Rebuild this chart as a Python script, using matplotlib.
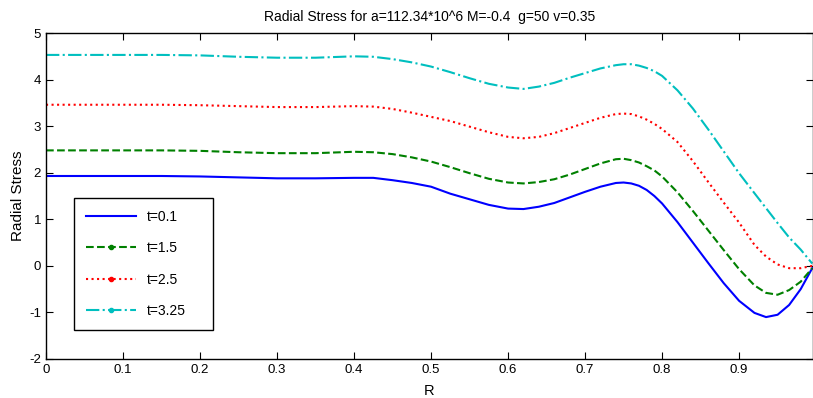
import matplotlib
matplotlib.use("Agg")
import matplotlib.pyplot as plt
from matplotlib.lines import Line2D

plt.rcParams['font.family'] = ['Liberation Sans', 'DejaVu Sans']
plt.rcParams['font.size'] = 9.5
plt.rcParams['axes.unicode_minus'] = False

# radius values (shared by all curves)
r = [0, 0.05, 0.1, 0.15, 0.2, 0.25, 0.3, 0.35, 0.4, 0.425, 0.45, 0.475, 0.5,
     0.525, 0.55, 0.575, 0.6, 0.62, 0.64, 0.66, 0.68, 0.7, 0.72, 0.74, 0.75,
     0.76, 0.77, 0.78, 0.79, 0.8, 0.82, 0.84, 0.86, 0.88, 0.9, 0.92, 0.935,
     0.95, 0.965, 0.98, 0.995]

stress_t01 = [1.93, 1.93, 1.93, 1.93, 1.92, 1.90, 1.88, 1.88, 1.89, 1.89, 1.84,
              1.78, 1.70, 1.55, 1.43, 1.31, 1.23, 1.22, 1.27, 1.35, 1.47, 1.59,
              1.70, 1.78, 1.79, 1.77, 1.72, 1.63, 1.50, 1.34, 0.94, 0.50, 0.06,
              -0.37, -0.75, -1.01, -1.10, -1.05, -0.84, -0.50, -0.05]
stress_t15 = [2.48, 2.48, 2.48, 2.48, 2.47, 2.44, 2.42, 2.42, 2.45, 2.44, 2.40,
              2.33, 2.24, 2.12, 1.99, 1.87, 1.79, 1.77, 1.80, 1.86, 1.96, 2.08,
              2.20, 2.29, 2.30, 2.27, 2.22, 2.14, 2.05, 1.92, 1.58, 1.18, 0.76,
              0.34, -0.07, -0.42, -0.58, -0.62, -0.52, -0.34, -0.05]
stress_t25 = [3.46, 3.46, 3.46, 3.46, 3.45, 3.43, 3.41, 3.41, 3.43, 3.42, 3.37,
              3.29, 3.20, 3.11, 2.99, 2.87, 2.77, 2.74, 2.77, 2.85, 2.96, 3.07,
              3.18, 3.26, 3.27, 3.26, 3.21, 3.14, 3.05, 2.94, 2.66, 2.25, 1.80,
              1.36, 0.93, 0.45, 0.20, 0.03, -0.05, -0.05, 0.0]
stress_t325 = [4.53, 4.53, 4.53, 4.53, 4.52, 4.49, 4.47, 4.47, 4.50, 4.49, 4.44,
               4.37, 4.28, 4.16, 4.03, 3.91, 3.83, 3.80, 3.85, 3.93, 4.04, 4.14,
               4.24, 4.31, 4.33, 4.33, 4.30, 4.25, 4.18, 4.08, 3.77, 3.38, 2.93,
               2.46, 1.99, 1.56, 1.24, 0.92, 0.61, 0.35, 0.05]

labels = ['t=0.1', 't=1.5', 't=2.5', 't=3.25']
colors = ['#0000ff', '#008000', '#ff0000', '#00bfbf']
styles = ['-', '--', ':', '-.']

fig = plt.figure(figsize=(8.13, 3.98), dpi=100)
ax = fig.add_axes([0.0566, 0.098, 0.9434, 0.819])

series = [stress_t01, stress_t15, stress_t25, stress_t325]
for s, c, ls in zip(series, colors, styles):
    ax.plot(r, s, color=c, linestyle=ls, linewidth=1.5)

ax.set_xlim(0, 0.996)
ax.set_ylim(-2, 5)
ax.set_xticks([0, 0.1, 0.2, 0.3, 0.4, 0.5, 0.6, 0.7, 0.8, 0.9])
ax.set_xticklabels(['0', '0.1', '0.2', '0.3', '0.4', '0.5', '0.6', '0.7', '0.8', '0.9'])
ax.set_yticks(range(-2, 6))
ax.tick_params(direction='in', top=True, right=True, length=5, width=0.8)
for sp in ax.spines.values():
    sp.set_linewidth(1.0)

ax.set_title('Radial Stress for a=112.34*10^6 M=-0.4  g=50 v=0.35', fontsize=10, pad=9)
ax.set_xlabel('R', fontsize=10.5, labelpad=6)
ax.set_ylabel('Radial Stress', fontsize=11, labelpad=3)

handles = [
    Line2D([], [], color=colors[0], linestyle=styles[0], linewidth=1.5),
    Line2D([], [], color=colors[1], linestyle=styles[1], linewidth=1.5, marker='.'),
    Line2D([], [], color=colors[2], linestyle=styles[2], linewidth=1.5, marker='.'),
    Line2D([], [], color=colors[3], linestyle=styles[3], linewidth=1.5, marker='.'),
]
leg = ax.legend(handles, labels, loc='upper left',
                bbox_to_anchor=(0.0365, 0.089, 0.181, 0.405), mode='expand',
                borderaxespad=0, fancybox=False, edgecolor='black', framealpha=1,
                fontsize=10, labelspacing=1.26, handlelength=3.6, handletextpad=0.8,
                borderpad=0.85, numpoints=1)
leg.get_frame().set_linewidth(1.0)

fig.savefig('out.png', dpi=100)
